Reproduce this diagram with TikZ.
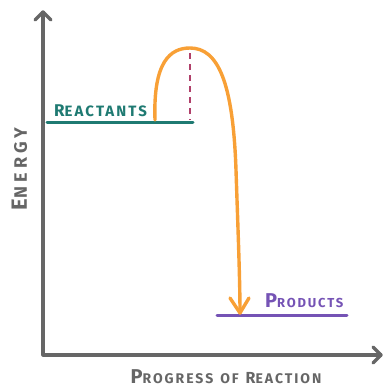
\documentclass[tikz,border=0pt]{standalone}
\usepackage{fontspec}
\setmainfont{Fira Sans}
\usetikzlibrary{arrows.meta}
\definecolor{axisgray}{HTML}{666666}
\definecolor{tealc}{HTML}{1F7A72}
\definecolor{orng}{HTML}{F8A036}
\definecolor{dashc}{HTML}{B0406A}
\definecolor{purp}{HTML}{7553B5}
\newcommand{\fsz}[2]{{\fontsize{#1}{#1}\selectfont #2}}
\tikzset{
  axisline/.style={draw=axisgray, line width=3.2pt, line cap=round, line join=round},
  lvl/.style={line width=3pt, line cap=round},
  lbl/.style={inner sep=0pt, font=\bfseries\addfontfeature{LetterSpace=14}},
  widelbl/.style={inner sep=0pt, font=\bfseries\addfontfeature{LetterSpace=24}},
}
\begin{document}
\begin{tikzpicture}[x=1pt,y=-1pt]
\useasboundingbox (0,0) rectangle (384,389);
% axes
\coordinate (top) at (43,12);
\coordinate (origin) at (43,355);
\coordinate (right) at (381,355);
\draw[axisline] (top) -- (origin) -- (right);
\draw[axisline] (35,20) -- (top) -- (51,20);
\draw[axisline] (373,347) -- (right) -- (373,363);
% levels
\coordinate (r1) at (47,122);
\coordinate (r2) at (193,122);
\draw[lvl, tealc] (r1) -- (r2);
\coordinate (p1) at (217,315);
\coordinate (p2) at (347,315);
\draw[lvl, purp] (p1) -- (p2);
% dashed
\coordinate (peak) at (190,48);
\coordinate (dbot) at (190,120);
\draw[dashc, line width=2pt, dash pattern=on 6pt off 5pt] (190,53) -- (dbot);
% curve
\coordinate (cstart) at (155,120);
\coordinate (ctip) at (240,313);
\draw[orng, line width=3.4pt, line cap=round] (cstart) .. controls (153,62) and (170,48) .. (peak) .. controls (218,48) and (233,82) .. (236,170) .. controls (238,230) and (240,280) .. (ctip);
\draw[orng, line width=3.4pt, line cap=round, line join=round] (230,298) -- (ctip) -- (249,298);
% labels
\node[lbl, tealc, anchor=base west] (reac) at (54,116) {\fsz{17}{R}\fsz{15}{EACTANTS}};
\node[lbl, purp, anchor=base west] (prod) at (265,307) {\fsz{20}{P}\fsz{13}{RODUCTS}};
\node[lbl, axisgray, anchor=base] (xl) at (226,383) {\fsz{20}{P}\fsz{14}{ROGRESS}\hspace{7pt}\fsz{14}{OF}\hspace{7pt}\fsz{16}{R}\fsz{14}{EACTION}};
\node[widelbl, axisgray, anchor=base, rotate=90] (yl) at (27,169) {\fsz{22}{E}\fsz{18}{NERGY}};
\end{tikzpicture}
\end{document}
